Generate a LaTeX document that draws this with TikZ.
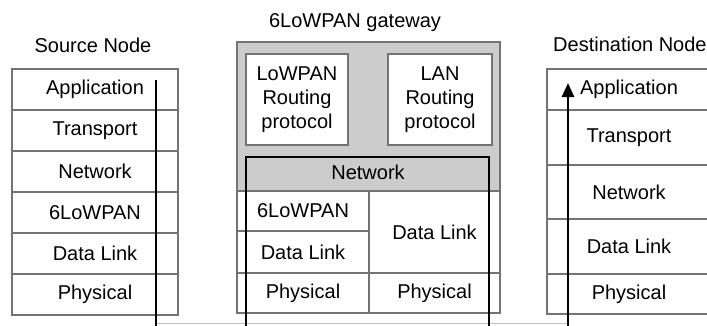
\documentclass[tikz,border=0pt]{standalone}
\usepackage{fontspec}
\setmainfont{Liberation Sans}
\usetikzlibrary{arrows.meta}
\tikzset{
  cell/.style={draw=black!55, line width=1.3pt, inner sep=0pt, anchor=center,
               font=\fontsize{20}{24}\selectfont},
  title/.style={inner sep=0pt, anchor=base, font=\fontsize{20}{24}\selectfont},
  route/.style={cell, fill=white, align=center},
  flow/.style={line width=2.6pt, draw=black},
  medium/.style={line width=1pt, draw=black!25},
}
\begin{document}
\begin{tikzpicture}[x=1pt, y=-1pt]
\useasboundingbox (0,0) rectangle (707,325);

% titles
\node[title] (tsrc) at (93,52) {Source Node};
\node[title] (tgw) at (355,27) {6LoWPAN gateway};
\node[title, anchor=base west] (tdst) at (553,51) {Destination Node};

% source node protocol stack
\node[cell, minimum width=166pt, minimum height=41pt] (s1) at (95,89.5) {Application};
\node[cell, minimum width=166pt, minimum height=41pt] (s2) at (95,130.5) {Transport};
\node[cell, minimum width=166pt, minimum height=41pt] (s3) at (95,171.5) {Network};
\node[cell, minimum width=166pt, minimum height=41pt] (s4) at (95,212.5) {6LoWPAN};
\node[cell, minimum width=166pt, minimum height=41pt] (s5) at (95,253.5) {Data Link};
\node[cell, minimum width=166pt, minimum height=41pt] (s6) at (95,294.5) {Physical};

% gateway body
\node[cell, fill=black!20, minimum width=263pt, minimum height=271pt] (gw) at (368.5,177.5) {};
\node[route, minimum width=102pt, minimum height=91pt] (rlow) at (297,99.5)
  {LoWPAN\\Routing\\protocol};
\node[route, minimum width=104pt, minimum height=91pt] (rlan) at (440,99.5)
  {LAN\\Routing\\protocol};
\node[inner sep=0pt, font=\fontsize{20}{24}\selectfont] (gnet) at (368,172) {Network};
\node[cell, fill=white, minimum width=132pt, minimum height=40pt] (g6) at (303,211) {6LoWPAN};
\node[cell, fill=white, minimum width=132pt, minimum height=42pt] (gdl) at (303,252) {Data Link};
\node[cell, fill=white, minimum width=131pt, minimum height=82pt] (gdr) at (434.5,232) {Data Link};
\node[cell, fill=white, minimum width=132pt, minimum height=40pt] (gpl) at (303,293) {Physical};
\node[cell, fill=white, minimum width=131pt, minimum height=40pt] (gpr) at (434.5,293) {Physical};

% destination node protocol stack
\node[cell, minimum width=164pt, minimum height=41pt] (d1) at (629,89.5) {Application};
\node[cell, minimum width=164pt, minimum height=55pt] (d2) at (629,137.5) {Transport};
\node[cell, minimum width=164pt, minimum height=54pt] (d3) at (629,192) {Network};
\node[cell, minimum width=164pt, minimum height=55pt] (d4) at (629,246.5) {Data Link};
\node[cell, minimum width=164pt, minimum height=40pt] (d5) at (629,294) {Physical};

% data path
\coordinate (srcTop) at (156,80);
\coordinate (srcBot) at (156,326);
\coordinate (gwInL) at (246,326);
\coordinate (gwTopL) at (246,157);
\coordinate (gwTopR) at (489,157);
\coordinate (gwInR) at (489,326);
\coordinate (dstBot) at (568,326);
\coordinate (dstTop) at (568,83);
\coordinate (linkL) at (156,323.5);
\coordinate (linkR) at (568,323.5);

\draw[medium] (linkL) -- (linkR);
\draw[flow] (srcTop) -- (srcBot);
\draw[flow] (gwInL) -- (gwTopL) -- (gwTopR) -- (gwInR);
\draw[flow, -{Triangle[length=14pt, width=12pt]}] (dstBot) -- (dstTop);
\end{tikzpicture}
\end{document}
